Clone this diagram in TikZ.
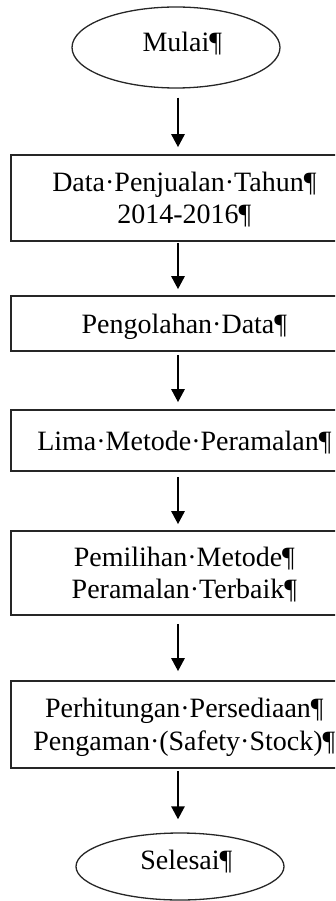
\documentclass[tikz,border=0pt]{standalone}
\usepackage{fontspec}
\setmainfont{Liberation Serif}
\usetikzlibrary{shapes.geometric,arrows.meta}
\begin{document}
\begin{tikzpicture}[x=1pt,y=-1pt,
  box/.style={draw=black!85,line width=1.6pt,rectangle,minimum width=334pt,inner sep=0pt,
    align=center,text depth=0pt,font=\fontsize{28}{32}\selectfont},
  term/.style={draw=black!85,line width=1.3pt,ellipse,minimum width=208pt,inner sep=0pt,
    text height=19pt,font=\fontsize{28}{32}\selectfont},
  arr/.style={line width=2.6pt,-{Triangle[width=13pt,length=13pt]}}]
\useasboundingbox (0,0) rectangle (335,901);
\clip (0,0) rectangle (335,901);
\coordinate (ax) at (178,0);
\node[term,minimum height=81pt,text depth=10pt] (m) at (176,47.5) {Mulai\rlap{¶}};
\node[box,minimum height=86pt] (b1) at (178,198) {Data·Penjualan·Tahun\rlap{¶}\\2014-2016\rlap{¶}};
\node[box,minimum height=55pt] (b2) at (178,323.5) {Pengolahan·Data\rlap{¶}};
\node[box,minimum height=61pt] (b3) at (178,440.5) {Lima·Metode·Peramalan\rlap{¶}};
\node[box,minimum height=84pt] (b4) at (178,573) {Pemilihan·Metode\rlap{¶}\\Peramalan·Terbaik\rlap{¶}};
\node[box,minimum height=87pt,font=\fontsize{28}{33}\selectfont] (b5) at (178,724.5) {Perhitungan·Persediaan\rlap{¶}\\Pengaman·(Safety·Stock)\rlap{¶}};
\node[term,minimum height=67pt,text depth=14pt] (e) at (180,866.5) {Selesai\rlap{¶}};
\draw[arr,shorten <=9pt,shorten >=7pt] (m.south -| ax) -- (b1.north -| ax);
\draw[arr,shorten <=1pt,shorten >=6pt] (b1.south -| ax) -- (b2.north -| ax);
\draw[arr,shorten <=3pt,shorten >=7pt] (b2.south -| ax) -- (b3.north -| ax);
\draw[arr,shorten <=5pt,shorten >=6pt] (b3.south -| ax) -- (b4.north -| ax);
\draw[arr,shorten <=8pt,shorten >=9pt] (b4.south -| ax) -- (b5.north -| ax);
\draw[arr,shorten <=2pt,shorten >=13pt] (b5.south -| ax) -- (e.north -| ax);
\end{tikzpicture}
\end{document}
